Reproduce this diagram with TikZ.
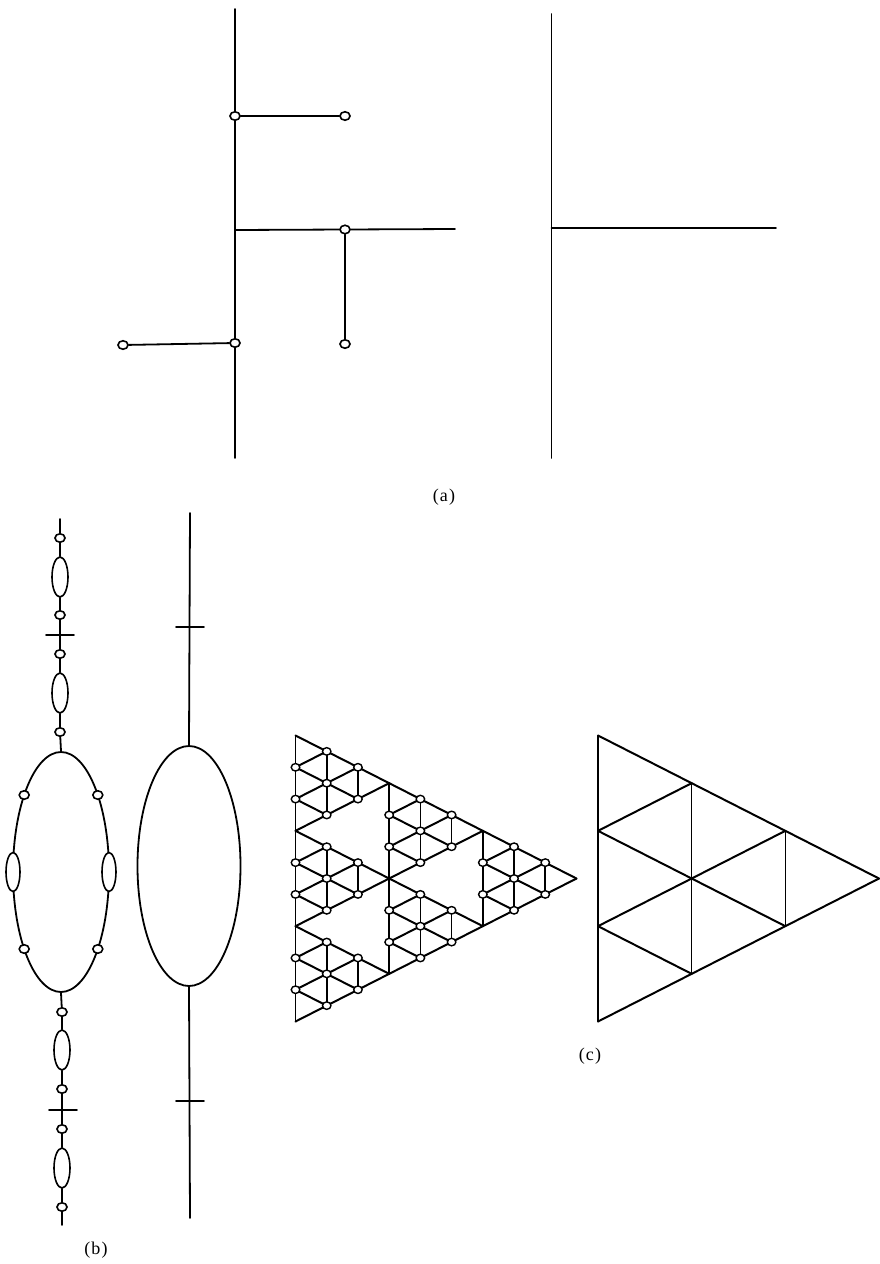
\documentclass[tikz,border=0pt]{standalone}
\usepackage{fontspec}
\setmainfont{Liberation Serif}
\usetikzlibrary{shapes.geometric}
\begin{document}
\begin{tikzpicture}[x=1pt,y=-1pt,
  ln/.style={line width=1.8pt, line cap=round},
  gl/.style={line width=2pt, line cap=round, line join=round},
  gv/.style={line width=1.6pt, line cap=round},
  dot/.style={ellipse, draw, fill=white, line width=1.6pt, inner sep=0pt, minimum width=10pt, minimum height=8.5pt},
  gdot/.style={ellipse, draw, fill=white, line width=1.4pt, inner sep=0pt, minimum width=8.5pt, minimum height=7.5pt},
  bead/.style={ellipse, draw, fill=white, line width=1.6pt, inner sep=0pt, minimum width=16pt, minimum height=40pt},
  loopst/.style={ellipse, draw, line width=1.8pt, inner sep=0pt},
  lab/.style={font=\fontsize{18}{20}\selectfont, inner sep=0pt}
]
\path[use as bounding box] (0,0) rectangle (880,1264);

% ---------------- (a) left tree ----------------
\coordinate (atop) at (235,9);
\coordinate (aj) at (235,230);
\coordinate (abot) at (235,458);
\coordinate (aend) at (455,229);
\node[dot] (a1) at (235,116) {};
\node[dot] (a2) at (345,116) {};
\node[dot] (a3) at (345,229.5) {};
\node[dot] (a4) at (345,344) {};
\node[dot] (a5) at (235,343) {};
\node[dot] (a6) at (123,345) {};
\draw[ln] (atop) -- (a1) -- (aj) -- (a5) -- (abot);
\draw[ln] (a1) -- (a2);
\draw[ln] (aj) -- (a3) -- (aend);
\draw[ln] (a3) -- (a4);
\draw[ln] (a6) -- (a5);

% ---------------- (a) right ----------------
\coordinate (btop) at (551.5,14);
\coordinate (bbot) at (551.5,458);
\coordinate (bj) at (551.5,228);
\coordinate (bend) at (776,228);
\draw[ln] (btop) -- (bbot);
\draw[ln] (bj) -- (bend);

\node[lab] (la) at (444,497) {(\kern1.2pt a\kern1.2pt)};

% ---------------- (b) chain ----------------
\node[loopst, minimum width=96pt, minimum height=240pt] (loop) at (61,872) {};
\node[bead, minimum width=14pt, minimum height=39pt] (sl) at (13,872) {};
\node[bead, minimum width=14pt, minimum height=39pt] (sr) at (109,872) {};
\node[dot] (d1) at (24.2,795) {};
\node[dot] (d2) at (97.8,795) {};
\node[dot] (d3) at (24.2,949) {};
\node[dot] (d4) at (97.8,949) {};

\coordinate (ct) at (60,519);
\node[dot] (c1) at (60,538) {};
\node[bead] (e1) at (60,577) {};
\node[dot] (c2) at (60,615) {};
\coordinate (x1) at (60,635);
\node[dot] (c3) at (60,654) {};
\node[bead] (e2) at (60,693) {};
\node[dot] (c4) at (60,732) {};
\draw[ln] (ct) -- (c1) -- (e1) -- (c2) -- (x1) -- (c3) -- (e2) -- (c4) -- (loop.north);
\draw[ln] ([xshift=-14pt]x1) -- ([xshift=14pt]x1);

\node[dot] (c5) at (62,1012) {};
\node[bead] (e3) at (62,1050) {};
\node[dot] (c6) at (62,1089) {};
\coordinate (x2) at (62,1110);
\node[dot] (c7) at (62,1129) {};
\node[bead] (e4) at (62,1168) {};
\node[dot] (c8) at (62,1207) {};
\coordinate (cb) at (62,1225);
\draw[ln] (loop.south) -- (c5) -- (e3) -- (c6) -- (x2) -- (c7) -- (e4) -- (c8) -- (cb);
\draw[ln] ([xshift=-13pt]x2) -- ([xshift=15pt]x2);

% ---------------- (b) second figure ----------------
\node[loopst, minimum width=103pt, minimum height=240pt] (big) at (189,866) {};
\coordinate (pt) at (190,513);
\coordinate (py1) at (190,627);
\coordinate (py2) at (190,1101);
\coordinate (pb) at (190,1218);
\draw[ln] (pt) -- (big.north);
\draw[ln] (big.south) -- (pb);
\draw[ln] ([xshift=-14pt]py1) -- ([xshift=14pt]py1);
\draw[ln] ([xshift=-14pt]py2) -- ([xshift=14pt]py2);

\node[lab] (lb) at (96,1250) {(\kern1.2pt b\kern1.2pt)};

% ---------------- (c) gasket ----------------
\begin{scope}[shift={(295.5pt,-735.5pt)}, x={(31.222pt,-15.889pt)}, y={(0pt,-31.778pt)}]
  \foreach \k/\m [count=\t] in {0/0,0/1,0/2,1/0,1/1,2/0} {
    \begin{scope}[shift={(3*\k,3*\m)}]
      \foreach \b in {0,1,2} \draw[gv] (\b,0) -- (\b,3-\b);
      \foreach \a in {0,1,2} \draw[gl] (0,\a) -- (3-\a,\a);
      \foreach \s in {1,2,3} \draw[gl] (\s,0) -- (0,\s);
      \foreach \p/\q [count=\n] in {1/0,2/0,0/1,0/2,1/1,2/1,1/2}
        \node[gdot] (g\t-\n) at (\p,\q) {};
    \end{scope}
  }
\end{scope}

% ---------------- (c) triangle ----------------
\begin{scope}[shift={(598pt,-735.5pt)}, x={(93.667pt,-47.667pt)}, y={(0pt,-95.333pt)}]
  \foreach \b in {0,1,2} \draw[gv] (\b,0) -- (\b,3-\b);
  \foreach \a in {0,1,2} \draw[gl] (0,\a) -- (3-\a,\a);
  \foreach \s in {1,2,3} \draw[gl] (\s,0) -- (0,\s);
\end{scope}

\node[lab] (lc) at (590,1056) {(\kern1.2pt c\kern1.2pt)};
\end{tikzpicture}
\end{document}
